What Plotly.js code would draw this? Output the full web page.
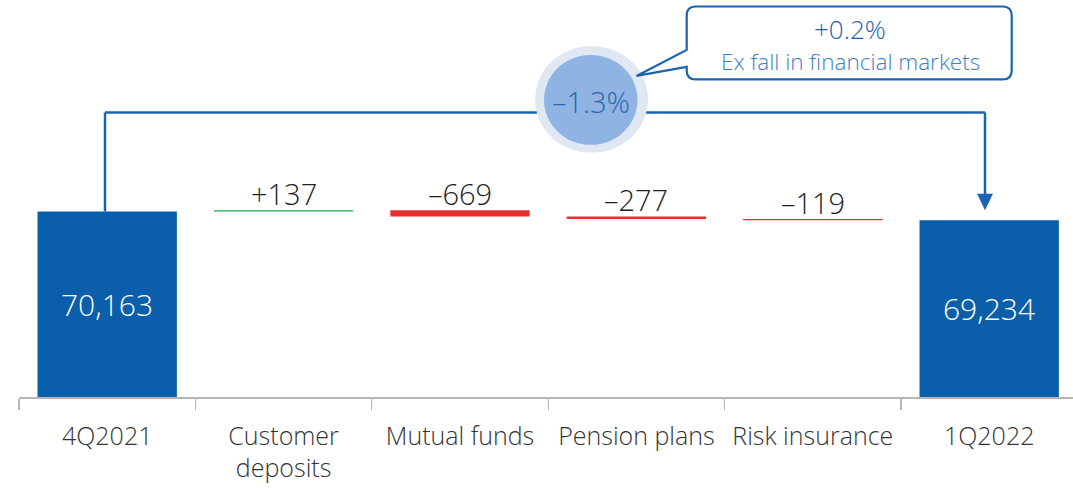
<!DOCTYPE html>
<html>
<head>
<meta charset="utf-8">
<script src="https://cdn.plot.ly/plotly-3.0.1.min.js"></script>
<style>html,body{margin:0;padding:0;background:#fff;}#chart{width:1073px;height:489px;}</style>
</head>
<body>
<div id="chart"></div>
<script>
// ---- data ----
const categories = ['4Q2021', 'Customer<br>deposits', 'Mutual funds', 'Pension plans', 'Risk insurance', '1Q2022'];
const startValue = 70163;
const changes = [137, -669, -277, -119];
const endValue = 69234;
const changeLabels = ['+137', '\u2013669', '\u2013277', '\u2013119'];
const totalLabels = ['70,163', '69,234'];
const growthLabel = '\u20131.3%';
const calloutValue = '+0.2%';
const calloutText = 'Ex fall in financial markets';

// ---- styling / layout constants ----
const W = 1073, H = 489;
const mL = 19, mB = 91.5, plotH = H - mB, plotW = W - mL;
const yMin = 50605, yMax = 92447;
const FONT = '"Open Sans", Lato, sans-serif';
const BLUE = '#0a5eaa', LINE = '#1a64b0';

// running totals
const bases = [], heights = [], colors = [];
let running = startValue;
bases.push(null); heights.push(startValue); colors.push(BLUE);
changes.forEach(c => {
  bases.push(running); heights.push(c);
  colors.push(c >= 0 ? '#1aa64b' : '#e8302e');
  running += c;
});
bases.push(null); heights.push(endValue); colors.push(BLUE);

const trace = {
  type: 'bar', x: categories, y: heights, base: bases,
  width: 0.79, marker: {color: colors, line: {width: 0}},
  hoverinfo: 'skip', showlegend: false
};

// pixel -> paper helpers for decorations
const px = v => (v - mL) / plotW;
const py = v => (plotH - v) / plotH;
const yData = v => yMin + (plotH - v) / plotH * (yMax - yMin);

const annotations = [];
// change labels above floating bars
let run2 = startValue;
changes.forEach((c, i) => {
  const top = Math.max(run2, run2 + c);
  annotations.push({x: categories[i + 1], y: top, xref: 'x', yref: 'y', text: changeLabels[i],
    showarrow: false, xanchor: 'center', yanchor: 'middle', yshift: 17,
    font: {family: FONT, size: 29, color: '#1e1e1e', weight: 300}});
  run2 += c;
});
// total labels inside bars
[[categories[0], startValue, totalLabels[0]], [categories[5], endValue, totalLabels[1]]].forEach(([c, v, t]) => {
  annotations.push({x: c, y: (v + yMin) / 2, xref: 'x', yref: 'y', text: t, showarrow: false,
    xanchor: 'center', yanchor: 'middle', font: {family: FONT, size: 30, color: '#ffffff', weight: 300}});
});
// bubble and callout texts
annotations.push({x: px(591), y: py(102), xref: 'paper', yref: 'paper', text: growthLabel, showarrow: false,
  xanchor: 'center', yanchor: 'middle', font: {family: FONT, size: 29, color: '#2a68b0', weight: 300}});
annotations.push({x: px(850), y: py(29.5), xref: 'paper', yref: 'paper', text: calloutValue, showarrow: false,
  xanchor: 'center', yanchor: 'middle', font: {family: FONT, size: 26, color: LINE, weight: 300}});
annotations.push({x: px(850), y: py(62), xref: 'paper', yref: 'paper', text: calloutText, showarrow: false,
  xanchor: 'center', yanchor: 'middle', font: {family: FONT, size: 22.5, color: '#3d7fc6', weight: 300}});

// callout box path (paper coords)
const L = 686.7, R = 1011.7, T = 6.5, B = 79.5, r = 9;
const P = (x, y) => px(x).toFixed(5) + ',' + py(y).toFixed(5);
const boxPath = 'M' + P(L + r, T) + ' L' + P(R - r, T) + ' Q' + P(R, T) + ' ' + P(R, T + r) +
  ' L' + P(R, B - r) + ' Q' + P(R, B) + ' ' + P(R - r, B) + ' L' + P(L + r, B) +
  ' Q' + P(L, B) + ' ' + P(L, B - r) + ' L' + P(L, 67) + ' L' + P(636.5, 76) + ' L' + P(L, 50) +
  ' L' + P(L, T + r) + ' Q' + P(L, T) + ' ' + P(L + r, T) + ' Z';

const levelY = yData(112.7);
const shapes = [
  // connector
  {type: 'line', xref: 'paper', yref: 'y', x0: px(105), x1: px(105), y0: startValue, y1: levelY,
    line: {color: LINE, width: 2.5}},
  {type: 'line', xref: 'paper', yref: 'y', x0: px(105), x1: px(985), y0: levelY, y1: levelY,
    line: {color: LINE, width: 2.5}},
  {type: 'line', xref: 'paper', yref: 'paper', x0: px(985), x1: px(985), y0: py(112.7), y1: py(195),
    line: {color: LINE, width: 2.5}},
  {type: 'path', xref: 'paper', yref: 'paper',
    path: 'M' + P(977, 194) + ' L' + P(993, 194) + ' L' + P(985, 210.5) + ' Z',
    fillcolor: LINE, line: {width: 0}},
  // bubble
  {type: 'circle', xref: 'paper', yref: 'paper', x0: px(535), x1: px(648), y0: py(46), y1: py(153),
    fillcolor: '#dfe7f3', line: {width: 0}},
  {type: 'circle', xref: 'paper', yref: 'paper', x0: px(544), x1: px(637.5), y0: py(55), y1: py(145),
    fillcolor: '#8fb4e3', line: {width: 0}},
  // callout
  {type: 'path', xref: 'paper', yref: 'paper', path: boxPath, fillcolor: '#ffffff',
    line: {color: LINE, width: 2.2}}
];

const layout = {
  width: W, height: H,
  margin: {l: mL, r: 0, t: 0, b: mB},
  paper_bgcolor: '#fff', plot_bgcolor: '#fff',
  bargap: 0.21,
  xaxis: {type: 'category', range: [-0.5, -0.5 + plotW / 176.4], showline: true, linecolor: '#b5b5b5',
    linewidth: 1.5, ticks: 'outside', ticklen: 11, tickcolor: '#b5b5b5', tickwidth: 1.2,
    tickson: 'boundaries', showgrid: false, zeroline: false, fixedrange: true, tickangle: 0,
    automargin: false,
    tickfont: {family: FONT, size: 25, color: '#333333', weight: 300}, ticklabelstandoff: 16},
  yaxis: {range: [yMin, yMax], visible: false, showgrid: false, zeroline: false, fixedrange: true},
  shapes: shapes, annotations: annotations, showlegend: false
};

Plotly.newPlot('chart', [trace], layout, {displayModeBar: false, staticPlot: true});
</script>
</body>
</html>
